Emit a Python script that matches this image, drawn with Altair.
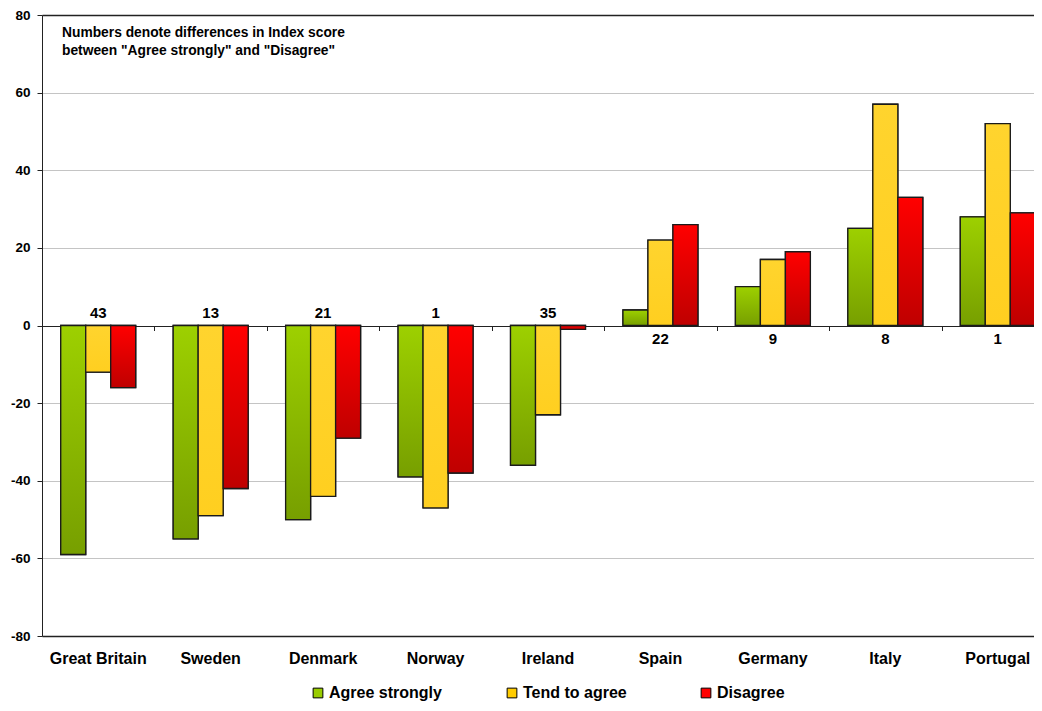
import altair as alt
import pandas as pd

COUNTRIES = ["Great Britain", "Sweden", "Denmark", "Norway", "Ireland",
             "Spain", "Germany", "Italy", "Portugal"]
SERIES = ["Agree strongly", "Tend to agree", "Disagree"]
AGREE_STRONGLY = [-59, -55, -50, -39, -36, 4, 10, 25, 28]
TEND_TO_AGREE = [-12, -49, -44, -47, -23, 22, 17, 57, 52]
DISAGREE = [-16, -42, -29, -38, -1, 26, 19, 33, 29]
DIFFERENCES = [43, 13, 21, 1, 35, 22, 9, 8, 1]
Y_TICKS = [-80, -60, -40, -20, 0, 20, 40, 60, 80]
NOTE_LINES = ["Numbers denote differences in Index score",
              "between \"Agree strongly\" and \"Disagree\""]
LEGEND_COLORS = ["#99cc00", "#ffcc00", "#ff0000"]
GRAD_TOP = ["#9dd000", "#ffd42e", "#ff0000"]
GRAD_BOTTOM = ["#779f00", "#ffcf20", "#bf0000"]

FONT = "Liberation Sans"

rows = []
for s, vals in zip(SERIES, [AGREE_STRONGLY, TEND_TO_AGREE, DISAGREE]):
    for c, v in zip(COUNTRIES, vals):
        rows.append({"country": c, "series": s, "value": v})
df = pd.DataFrame(rows)

lab_df = pd.DataFrame({
    "country": COUNTRIES,
    "diff": DIFFERENCES,
    "above": [a < 0 for a in AGREE_STRONGLY],
})
cat_df = pd.DataFrame({"country": COUNTRIES})

x_scale = alt.Scale(domain=COUNTRIES, range=[0, 1012], paddingInner=0, paddingOuter=0)
x_axis = alt.Axis(orient="bottom", offset=-310.5, labels=False, domain=False,
                  ticks=True, tickBand="extent", tickSize=5, tickColor="#222222",
                  tickWidth=1, grid=False, title=None)
x_enc = alt.X("country:N", sort=COUNTRIES, scale=x_scale, axis=x_axis, title=None)

xo_enc = alt.XOffset("series:N", sort=SERIES,
                     scale=alt.Scale(domain=SERIES, paddingInner=0, paddingOuter=0.75))

y_scale = alt.Scale(domain=[-80, 80], nice=False, zero=True)
y_axis = alt.Axis(
    values=Y_TICKS, title=None, labelFont=FONT, labelFontSize=13.5,
    labelFontWeight="bold", labelColor="black", labelPadding=7,
    labelExpr="'' + datum.value",
    tickSize=5, tickColor="#222222", domainColor="#222222", domainWidth=1,
    grid=True,
    gridColor={"condition": {"test": "datum.value == 0 || abs(datum.value) == 80",
                             "value": "#222222"}, "value": "#c4c4c4"},
    gridWidth={"condition": {"test": "abs(datum.value) == 80", "value": 1.5},
               "value": 1},
)
y_enc = alt.Y("value:Q", scale=y_scale, axis=y_axis, title=None)

base = alt.Chart(df).mark_bar(stroke="#1a1a1a", strokeWidth=1.3).encode(
    x=x_enc, xOffset=xo_enc, y=y_enc,
    color=alt.Color(
        "series:N",
        scale=alt.Scale(domain=SERIES, range=LEGEND_COLORS),
        legend=alt.Legend(
            orient="none", legendX=268, legendY=670, direction="horizontal",
            title=None, symbolType="square", symbolSize=95,
            symbolStrokeColor="black", symbolStrokeWidth=1,
            labelFont=FONT, labelFontSize=16, labelFontWeight="bold",
            labelColor="black", labelOffset=3, columnPadding=62,
            gridAlign="all", labelLimit=300,
        ),
    ),
)

layers = [base]
for s, top, bot in zip(SERIES, GRAD_TOP, GRAD_BOTTOM):
    grad = alt.Gradient(
        gradient="linear", x1=0, x2=0, y1=0, y2=1,
        stops=[alt.GradientStop(color=top, offset=0),
               alt.GradientStop(color=bot, offset=1)],
    )
    layers.append(
        alt.Chart(df[df["series"] == s]).mark_bar(
            fill=grad, stroke="#1a1a1a", strokeWidth=1.3
        ).encode(x=x_enc, xOffset=xo_enc, y=y_enc)
    )

zero_datum = alt.YDatum(0, type="quantitative", scale=y_scale, axis=y_axis)
bottom_datum = alt.YDatum(-80, type="quantitative", scale=y_scale, axis=y_axis)

labels_above = alt.Chart(lab_df).transform_filter("datum.above").mark_text(
    font=FONT, fontSize=15, fontWeight="bold", color="black",
    baseline="middle", dy=-12.5
).encode(x=x_enc, y=zero_datum, text="diff:Q")

labels_below = alt.Chart(lab_df).transform_filter("!datum.above").mark_text(
    font=FONT, fontSize=15, fontWeight="bold", color="black",
    baseline="middle", dy=13.5
).encode(x=x_enc, y=zero_datum, text="diff:Q")

cat_labels = alt.Chart(cat_df).mark_text(
    font=FONT, fontSize=16, fontWeight="bold", color="black",
    baseline="middle", dy=23
).encode(x=x_enc, y=bottom_datum, text="country:N")

note = alt.Chart(pd.DataFrame({"n": [0]})).mark_text(
    font=FONT, fontSize=13.8, fontWeight="bold", color="black",
    align="left", baseline="top", lineHeight=18, text=NOTE_LINES
).encode(x=alt.value(20), y=alt.value(11))

chart = alt.layer(*layers, labels_above, labels_below, cat_labels, note).properties(
    width=992, height=621,
    autosize=alt.AutoSizeParams(type="none"),
    padding={"left": 34, "top": 7, "right": 0, "bottom": 67},
).configure_view(stroke=None).configure(background="white")

chart.save("out.html", embed_options={"renderer": "svg", "actions": False})
